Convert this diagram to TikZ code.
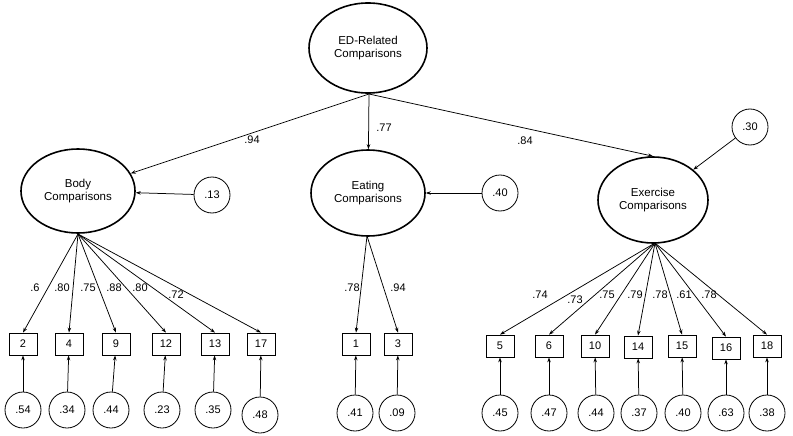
\documentclass[tikz,border=0pt]{standalone}
\usepackage{fontspec}
\setmainfont{Liberation Sans}
\usetikzlibrary{shapes.geometric,arrows.meta}
\begin{document}
\begin{tikzpicture}[x=1pt,y=-1pt,
  lat/.style={draw,ellipse,line width=1.6pt,inner sep=0pt,align=center,font=\fontsize{11.5}{13.5}\selectfont},
  obs/.style={draw,rectangle,line width=0.8pt,minimum width=28pt,minimum height=22pt,inner sep=0pt,font=\fontsize{11}{13}\selectfont},
  err/.style={draw,circle,line width=0.8pt,minimum size=36pt,inner sep=0pt,font=\fontsize{11}{13}\selectfont},
  lab/.style={inner sep=0pt,font=\fontsize{11}{12}\selectfont},
  arr/.style={-{Stealth[length=5pt,width=3.5pt]},line width=0.75pt}]
\useasboundingbox (0,0) rectangle (793,436);
% latent
\node[lat,minimum width=118pt,minimum height=90pt] (ed) at (368,48) {ED-Related\\Comparisons};
\node[lat,minimum width=114pt,minimum height=84pt] (body) at (78,191) {Body\\Comparisons};
\node[lat,minimum width=114pt,minimum height=86pt] (eat) at (368,193) {Eating\\Comparisons};
\node[lat,minimum width=110pt,minimum height=86pt] (exer) at (653,200) {Exercise\\Comparisons};
% disturbances
\node[err] (dbody) at (212,195) {.13};
\node[err] (deat) at (500,193) {.40};
\node[err] (dexer) at (750,127) {.30};
\draw[arr] (dbody) -- (body);
\draw[arr] (deat) -- (eat);
\draw[arr] (dexer) -- (exer);
% structural
\coordinate (edb) at (369,94);
\draw[arr] (edb) -- (body);
\draw[arr] (edb) -- (eat);
\draw[arr] (edb) -- (exer.north);
\node[lab] (l1) at (252,140) {.94};
\node[lab] (l2) at (384,128) {.77};
\node[lab] (l3) at (525,141) {.84};
% body indicators
\coordinate (bb) at (78,234);
\foreach \n/\x/\ex/\ey/\v in {2/23/23/410/.54, 4/69/67/410/.34, 9/116/111/410/.44, 12/166/162/410/.23, 13/215/213/410/.35, 17/261/260/415/.48}{
  \node[obs] (b\n) at (\x,344) {\n};
  \node[err] (e\n) at (\ex,\ey) {\v};
  \draw[arr] (bb) -- (b\n.north);
  \draw[arr] (e\n) -- (b\n);
}
\node[lab] (lb2) at (35,288) {.6};
\node[lab] (lb4) at (62,288) {.80};
\node[lab] (lb9) at (88,288) {.75};
\node[lab] (lb12) at (114,288) {.88};
\node[lab] (lb13) at (140,288) {.80};
\node[lab] (lb17) at (176,295) {.72};
% eating indicators
\coordinate (eb) at (367,236);
\foreach \n/\x/\ex/\v in {1/356/355/.41, 3/398/397/.09}{
  \node[obs] (b\n) at (\x,344) {\n};
  \node[err] (e\n) at (\ex,413) {\v};
  \draw[arr] (eb) -- (b\n.north);
  \draw[arr] (e\n) -- (b\n);
}
\node[lab] (lb1) at (352,288) {.78};
\node[lab] (lb3) at (398,288) {.94};
% exercise indicators
\coordinate (xb) at (655,243);
\foreach \n/\x/\y/\ex/\v in {5/500/346/500/.45, 6/549/346/549/.47, 10/595/346/596/.44, 14/638/347/639/.37, 15/682/346/683/.40, 16/726/348/726/.63, 18/767/346/767/.38}{
  \node[obs] (b\n) at (\x,\y) {\n};
  \node[err] (e\n) at (\ex,413) {\v};
  \draw[arr] (xb) -- (b\n.north);
  \draw[arr] (e\n) -- (b\n);
}
\node[lab] (lb5) at (540,295) {.74};
\node[lab] (lb6) at (575,300) {.73};
\node[lab] (lb10) at (607,295) {.75};
\node[lab] (lb14) at (635,295) {.79};
\node[lab] (lb15) at (660,295) {.78};
\node[lab] (lb16) at (684,295) {.61};
\node[lab] (lb18) at (709,295) {.78};
\end{tikzpicture}
\end{document}
